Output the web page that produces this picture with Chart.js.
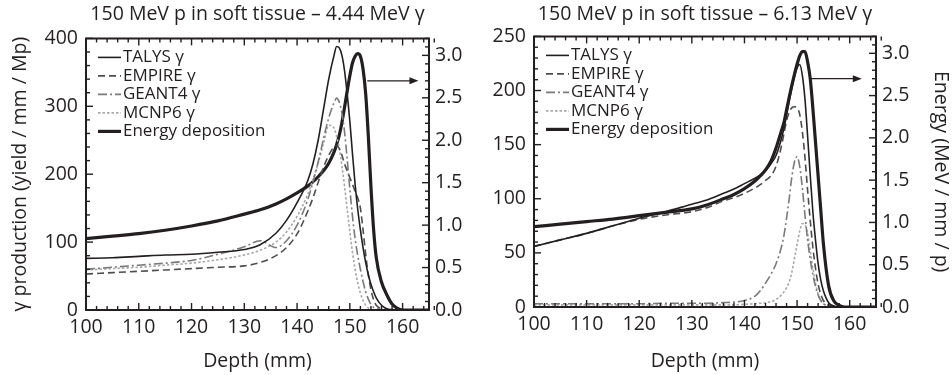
<!DOCTYPE html>
<html>
<head>
<meta charset="utf-8">
<script src="https://cdn.jsdelivr.net/npm/chart.js@4.4.1/dist/chart.umd.min.js"></script>
<style>
  body { margin: 0; background: #fff; }
  .box { position: absolute; top: 0; width: 476px; height: 375px; }
  canvas { display: block; }
</style>
</head>
<body>
<div class="box" style="left:0"><canvas id="chart444" width="476" height="375"></canvas></div>
<div class="box" style="left:476px"><canvas id="chart613" width="476" height="375"></canvas></div>
<script>
/* depth grid (mm), shared by every curve */
const depth = [100, 105, 110, 115, 120, 125, 130, 133, 136, 138, 140, 142, 143, 144, 145, 146, 147, 147.5, 148, 148.5,
    149, 149.5, 150, 150.5, 151, 151.5, 152, 152.5, 153, 153.5, 154, 154.5, 155, 156, 157, 158, 159, 160, 162, 165];

/* tick labels */
const depthTicks = [100, 110, 120, 130, 140, 150, 160];
const energyTicks = [0, 0.5, 1.0, 1.5, 2.0, 2.5, 3.0];
const yieldTicks444 = [0, 100, 200, 300, 400];
const yieldTicks613 = [0, 50, 100, 150, 200, 250];

/* 4.44 MeV line */
const talys444 = [76, 77, 79, 81, 82, 85, 89, 96, 113, 132, 158, 190, 215, 250, 295, 340, 375, 388, 386, 375,
    352, 318, 278, 230, 185, 148, 118, 92, 70, 52, 38, 27, 18, 7, 2, 0.5, 0, 0, 0, 0];
const empire444 = [53, 55, 57, 59, 61, 63, 65, 70, 80, 92, 112, 145, 165, 188, 210, 228, 240, 242, 238, 228,
    215, 205, 195, 185, 175, 165, 150, 118, 82, 52, 30, 15, 7, 2, 0.5, 0, 0, 0, 0, 0];
const geant444 = [60, 63, 66, 69, 73, 82, 93, 102, 92, 102, 125, 162, 188, 218, 252, 283, 305, 312, 306, 290,
    262, 222, 178, 138, 105, 80, 60, 42, 27, 16, 8, 4, 2, 0.5, 0, 0, 0, 0, 0, 0];
const mcnp444 = [59, 61, 63, 66, 69, 74, 81, 88, 100, 115, 138, 170, 192, 216, 245, 272, 268, 255, 238, 212,
    182, 148, 115, 85, 60, 40, 25, 14, 7, 3, 1, 0.5, 0, 0, 0, 0, 0, 0, 0, 0];
const energy444 = [0.84, 0.87, 0.90, 0.94, 0.99, 1.05, 1.13, 1.18, 1.25, 1.31, 1.38, 1.46, 1.51, 1.57, 1.64, 1.73, 1.86, 1.95, 2.06, 2.21,
    2.39, 2.58, 2.76, 2.91, 2.99, 3.02, 2.99, 2.84, 2.55, 2.05, 1.45, 0.95, 0.62, 0.33, 0.18, 0.07, 0.02, 0, 0, 0];

/* 6.13 MeV line */
const talys613 = [56, 62, 68, 75, 82, 88, 95, 99, 105, 109, 114, 119, 122, 126, 132, 140, 155, 165, 177, 190,
    202, 213, 221, 224, 214, 192, 158, 122, 88, 62, 40, 25, 15, 4, 1, 0, 0, 0, 0, 0];
const empire613 = [56, 62, 68, 75, 81, 85, 88, 92, 98, 101, 105, 110, 113, 117, 121, 130, 148, 160, 172, 180,
    184, 185, 184, 178, 162, 138, 108, 80, 55, 36, 21, 12, 6, 1.5, 0.5, 0, 0, 0, 0, 0];
const geant613 = [3, 3, 3, 3, 3, 3.5, 3.5, 3.5, 4, 4.5, 6, 10, 15, 22, 30, 40, 55, 66, 82, 100,
    120, 134, 139, 130, 110, 85, 62, 44, 30, 19, 11, 6, 3, 1, 0.5, 0, 0, 0, 0, 0];
const mcnp613 = [2, 2, 2, 2, 2, 2, 2, 2, 2, 2, 2.5, 3, 3.5, 4, 5, 7, 11, 14, 18, 23,
    32, 45, 58, 70, 77, 76, 68, 52, 36, 22, 12, 6, 3, 1, 0, 0, 0, 0, 0, 0];
const energy613 = [0.95, 0.98, 1.01, 1.04, 1.08, 1.12, 1.16, 1.21, 1.28, 1.33, 1.40, 1.49, 1.55, 1.62, 1.72, 1.88, 2.08, 2.18, 2.33, 2.48,
    2.62, 2.75, 2.87, 2.97, 3.02, 3.02, 2.90, 2.70, 2.35, 1.95, 1.55, 1.15, 0.75, 0.25, 0.07, 0.02, 0, 0, 0, 0];

const ink = '#231f20';
const fontFamily = "'Open Sans', 'Noto Sans', sans-serif";
const textSize = 19.5;

function pairs(ys) {
    return depth.map((d, i) => ({ x: d, y: ys[i] }));
}

function fixedTicks(values) {
    return (scale) => { scale.ticks = values.map((v) => ({ value: v })); };
}

/* walk minor tick values of a scale, flagging the major ones */
function eachTick(scale, lo, hi, minor, major, fn) {
    const n = Math.round((hi - lo) / minor);
    for (let i = 0; i <= n; i++) {
        const v = lo + i * minor;
        const isMajor = Math.abs(v / major - Math.round(v / major)) < 1e-6;
        fn(scale.getPixelForValue(v), isMajor);
    }
}

function seg(ctx, x1, y1, x2, y2) {
    ctx.beginPath();
    ctx.moveTo(x1, y1);
    ctx.lineTo(x2, y2);
    ctx.stroke();
}

/* box, inward ticks on four sides and the arrow to the energy axis */
const frameTicks = {
    id: 'frameTicks',
    afterDraw(chart, args, opts) {
        const ctx = chart.ctx;
        const sx = chart.scales.x, sl = chart.scales.yL, se = chart.scales.yE;
        const L = sx.getPixelForValue(100), R = sx.getPixelForValue(165);
        const T = sl.getPixelForValue(opts.leftMax), B = sl.getPixelForValue(0);
        ctx.save();
        ctx.setLineDash([]);
        ctx.strokeStyle = ink;
        ctx.fillStyle = ink;

        ctx.lineWidth = 1.4;
        eachTick(sx, 100, 165, 2, 10, (px, major) => {
            const len = major ? 7 : 4;
            seg(ctx, px, B, px, B - len);
            seg(ctx, px, T, px, T + len);
        });
        eachTick(sl, 0, opts.leftMax, opts.leftMinor, opts.leftMajor, (py, major) => {
            seg(ctx, L, py, L + (major ? 7 : 4), py);
        });
        eachTick(se, 0, 3.2, 0.1, 0.5, (py, major) => {
            seg(ctx, R, py, R - (major ? 7 : 4), py);
        });

        ctx.lineWidth = 2;
        ctx.beginPath();
        ctx.moveTo(L, T);
        ctx.lineTo(R, T);
        ctx.lineTo(R, B);
        ctx.lineTo(L, B);
        ctx.closePath();
        ctx.stroke();

        const ar = opts.arrow;
        const ay = se.getPixelForValue(ar.y);
        const x1 = sx.getPixelForValue(ar.from);
        const x2 = sx.getPixelForValue(ar.to);
        ctx.lineWidth = 1.2;
        seg(ctx, x1, ay, x2 - 6, ay);
        ctx.beginPath();
        ctx.moveTo(x2, ay);
        ctx.lineTo(x2 - 9, ay - 3.5);
        ctx.lineTo(x2 - 9, ay + 3.5);
        ctx.closePath();
        ctx.fill();
        ctx.restore();
    }
};

/* legend in the top left corner of the plot */
const insideLegend = {
    id: 'insideLegend',
    afterDraw(chart) {
        const { ctx, chartArea: a } = chart;
        ctx.save();
        ctx.font = '17px ' + fontFamily;
        ctx.textBaseline = 'middle';
        ctx.fillStyle = ink;
        chart.data.datasets.forEach((ds, i) => {
            const y = a.top + 19 + i * 18.5;
            const x = a.left + 12;
            ctx.strokeStyle = ds.borderColor;
            ctx.lineWidth = ds.borderWidth;
            ctx.setLineDash(ds.borderDash || []);
            seg(ctx, x, y, x + 23, y);
            ctx.setLineDash([]);
            ctx.fillText(ds.label, x + 25, y);
        });
        ctx.restore();
    }
};

function makeChart(id, p) {
    return new Chart(document.getElementById(id), {
        type: 'line',
        data: {
            datasets: [
                { label: 'TALYS γ', data: pairs(p.talys), yAxisID: 'yL', borderColor: ink, borderWidth: 1.6 },
                { label: 'EMPIRE γ', data: pairs(p.empire), yAxisID: 'yL', borderColor: '#4d4d4d', borderWidth: 1.6, borderDash: [7, 4] },
                { label: 'GEANT4 γ', data: pairs(p.geant), yAxisID: 'yL', borderColor: '#7a7a7a', borderWidth: 1.6, borderDash: [9, 3, 2, 3] },
                { label: 'MCNP6 γ', data: pairs(p.mcnp), yAxisID: 'yL', borderColor: '#a8a8a8', borderWidth: 1.6, borderDash: [2.5, 2] },
                { label: 'Energy deposition', data: pairs(p.energy), yAxisID: 'yE', borderColor: ink, borderWidth: 3.2 }
            ]
        },
        options: {
            responsive: false,
            animation: false,
            events: [],
            elements: {
                point: { radius: 0 },
                line: { cubicInterpolationMode: 'monotone', fill: false }
            },
            layout: { padding: 0 },
            scales: {
                x: {
                    type: 'linear',
                    min: 100,
                    max: 165,
                    afterBuildTicks: fixedTicks(depthTicks),
                    afterFit: (s) => { s.height = p.xHeight; },
                    grid: { display: false, drawTicks: false },
                    border: { display: false },
                    ticks: {
                        autoSkip: false,
                        maxRotation: 0,
                        padding: 6,
                        color: ink,
                        font: { size: textSize, family: fontFamily }
                    },
                    title: {
                        display: true,
                        text: 'Depth (mm)',
                        color: ink,
                        padding: { top: 0, bottom: 2 },
                        font: { size: textSize, family: fontFamily }
                    }
                },
                yL: {
                    position: 'left',
                    min: 0,
                    max: p.leftMax,
                    afterBuildTicks: fixedTicks(p.leftTicks),
                    afterFit: (s) => { s.width = p.leftWidth; },
                    grid: { display: false, drawTicks: false },
                    border: { display: false },
                    ticks: {
                        autoSkip: false,
                        padding: 8,
                        color: ink,
                        font: { size: textSize, family: fontFamily }
                    },
                    title: {
                        display: p.leftTitle !== '',
                        text: p.leftTitle,
                        color: ink,
                        padding: { top: 9, bottom: 0 },
                        font: { size: textSize, family: fontFamily }
                    }
                },
                yE: {
                    position: 'right',
                    min: 0,
                    max: 3.2,
                    afterBuildTicks: fixedTicks(energyTicks),
                    afterFit: (s) => { s.width = p.rightWidth; },
                    grid: { display: false, drawTicks: false },
                    border: { display: false },
                    ticks: {
                        autoSkip: false,
                        padding: 6,
                        color: ink,
                        font: { size: textSize, family: fontFamily },
                        callback: (v) => v.toFixed(1)
                    },
                    title: {
                        display: p.rightTitle !== '',
                        text: p.rightTitle,
                        color: ink,
                        padding: { top: 0, bottom: 0 },
                        font: { size: textSize, family: fontFamily }
                    }
                }
            },
            plugins: {
                legend: { display: false },
                tooltip: { enabled: false },
                title: {
                    display: true,
                    fullSize: false,
                    text: p.title,
                    color: ink,
                    padding: { top: 3, bottom: p.titleGap },
                    font: { size: textSize, weight: 'normal', family: fontFamily }
                },
                frameTicks: {
                    leftMax: p.leftMax,
                    leftMajor: p.leftMajor,
                    leftMinor: p.leftMinor,
                    arrow: p.arrow
                }
            }
        },
        plugins: [frameTicks, insideLegend]
    });
}

makeChart('chart444', {
    title: '150 MeV p in soft tissue – 4.44 MeV γ',
    talys: talys444, empire: empire444, geant: geant444, mcnp: mcnp444, energy: energy444,
    leftMax: 400, leftTicks: yieldTicks444, leftMajor: 100, leftMinor: 20,
    leftTitle: 'γ production (yield / mm / Mp)', rightTitle: '',
    leftWidth: 86, rightWidth: 47, xHeight: 65, titleGap: 12,
    arrow: { y: 2.7, from: 153.3, to: 163 }
});

makeChart('chart613', {
    title: '150 MeV p in soft tissue – 6.13 MeV γ',
    talys: talys613, empire: empire613, geant: geant613, mcnp: mcnp613, energy: energy613,
    leftMax: 250, leftTicks: yieldTicks613, leftMajor: 50, leftMinor: 10,
    leftTitle: '', rightTitle: 'Energy (MeV / mm / p)',
    leftWidth: 58, rightWidth: 76, xHeight: 68, titleGap: 10,
    arrow: { y: 2.7, from: 152.6, to: 162.3 }
});
</script>
</body>
</html>
